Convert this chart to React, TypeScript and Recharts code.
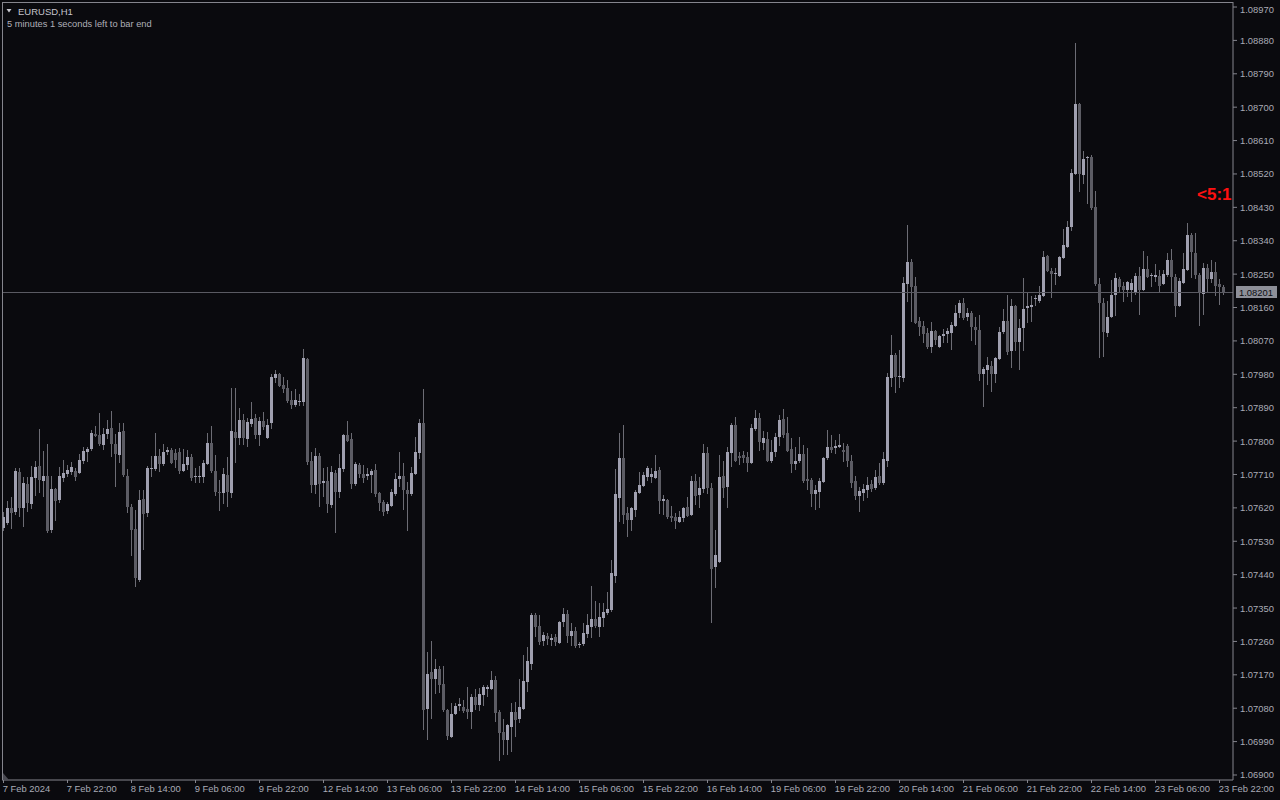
import React from "react";
import { ComposedChart, Bar, XAxis, YAxis, ReferenceLine } from "recharts";

// ---- data ----
const sessionDays = ["7 Feb", "8 Feb", "9 Feb", "12 Feb", "13 Feb", "14 Feb", "15 Feb", "16 Feb", "19 Feb", "20 Feb", "21 Feb", "22 Feb", "23 Feb"];
const sessionStartHour = [6, 0, 0, 0, 0, 0, 0, 0, 0, 0, 0, 0, 0];
const firstTickLabel = "7 Feb 2024";
const symbolTitle = "EURUSD,H1";
const timerText = "5 minutes 1 seconds left to bar end";
const redMarkText = "<5:1";
const lastPrice = 1.08201;
const priceTicks = [
  1.069, 1.0699, 1.0708, 1.0717, 1.0726, 1.0735, 1.0744, 1.0753, 1.0762, 1.0771, 1.078, 1.0789,
  1.0798, 1.0807, 1.0816, 1.0825, 1.0834, 1.0843, 1.0852, 1.0861, 1.087, 1.0879, 1.0888, 1.0897,
];
const priceDomain = [1.068865, 1.089835];

// [open, high, low, close]
const ohlc: number[][] = [
  [1.07566,1.07609,1.07558,1.07595],[1.07579,1.07638,1.07574,1.07620],[1.07620,1.07649,1.07563,1.07606],[1.07609,1.07727,1.07601,1.07719],
  [1.07717,1.07727,1.07595,1.07620],[1.07620,1.07703,1.07568,1.07687],[1.07684,1.07703,1.07609,1.07633],[1.07630,1.07733,1.07617,1.07703],
  [1.07700,1.07746,1.07652,1.07730],[1.07733,1.07832,1.07660,1.07695],[1.07692,1.07773,1.07649,1.07706],[1.07706,1.07792,1.07552,1.07558],
  [1.07560,1.07706,1.07552,1.07671],[1.07671,1.07674,1.07585,1.07638],[1.07641,1.07730,1.07633,1.07706],[1.07700,1.07749,1.07690,1.07714],
  [1.07711,1.07736,1.07703,1.07722],[1.07717,1.07744,1.07709,1.07730],[1.07719,1.07727,1.07692,1.07703],[1.07714,1.07765,1.07711,1.07749],
  [1.07746,1.07784,1.07738,1.07773],[1.07771,1.07784,1.07744,1.07779],[1.07779,1.07830,1.07773,1.07822],[1.07819,1.07841,1.07811,1.07814],
  [1.07816,1.07876,1.07787,1.07792],[1.07789,1.07835,1.07776,1.07819],[1.07819,1.07857,1.07806,1.07832],[1.07835,1.07881,1.07757,1.07792],
  [1.07792,1.07819,1.07676,1.07765],[1.07762,1.07849,1.07741,1.07824],[1.07827,1.07849,1.07703,1.07709],[1.07706,1.07725,1.07606,1.07622],
  [1.07622,1.07630,1.07490,1.07560],[1.07563,1.07614,1.07407,1.07431],[1.07426,1.07668,1.07420,1.07641],[1.07644,1.07668,1.07506,1.07603],
  [1.07606,1.07733,1.07595,1.07727],[1.07725,1.07760,1.07703,1.07727],[1.07725,1.07822,1.07719,1.07760],[1.07760,1.07779,1.07717,1.07738],
  [1.07738,1.07792,1.07733,1.07771],[1.07771,1.07784,1.07762,1.07776],[1.07776,1.07781,1.07738,1.07741],[1.07768,1.07779,1.07727,1.07749],
  [1.07771,1.07781,1.07711,1.07719],[1.07719,1.07779,1.07717,1.07738],[1.07736,1.07776,1.07722,1.07757],[1.07757,1.07765,1.07692,1.07700],
  [1.07703,1.07727,1.07687,1.07706],[1.07703,1.07733,1.07687,1.07706],[1.07703,1.07749,1.07687,1.07741],[1.07738,1.07822,1.07736,1.07795],
  [1.07795,1.07841,1.07714,1.07719],[1.07719,1.07762,1.07652,1.07663],[1.07663,1.07695,1.07611,1.07660],[1.07660,1.07727,1.07630,1.07711],
  [1.07709,1.07757,1.07622,1.07663],[1.07660,1.07943,1.07646,1.07827],[1.07824,1.07943,1.07741,1.07808],[1.07808,1.07889,1.07789,1.07857],
  [1.07857,1.07873,1.07789,1.07808],[1.07806,1.07862,1.07784,1.07851],[1.07846,1.07905,1.07838,1.07859],[1.07862,1.07873,1.07806,1.07816],
  [1.07816,1.07865,1.07787,1.07854],[1.07854,1.07878,1.07830,1.07838],[1.07808,1.07859,1.07806,1.07843],[1.07849,1.07981,1.07832,1.07973],
  [1.07970,1.07992,1.07957,1.07981],[1.07981,1.07983,1.07946,1.07948],[1.07951,1.07973,1.07930,1.07940],[1.07943,1.07965,1.07903,1.07908],
  [1.07911,1.07935,1.07886,1.07897],[1.07897,1.07940,1.07892,1.07911],[1.07906,1.07927,1.07894,1.07908],[1.07905,1.08048,1.07894,1.08024],
  [1.08021,1.08024,1.07736,1.07744],[1.07746,1.07771,1.07660,1.07682],[1.07682,1.07781,1.07657,1.07760],[1.07760,1.07768,1.07622,1.07684],
  [1.07687,1.07727,1.07649,1.07692],[1.07692,1.07730,1.07606,1.07630],[1.07628,1.07733,1.07620,1.07717],[1.07714,1.07722,1.07552,1.07663],
  [1.07663,1.07765,1.07646,1.07727],[1.07725,1.07819,1.07717,1.07816],[1.07816,1.07854,1.07797,1.07800],[1.07806,1.07822,1.07671,1.07684],
  [1.07684,1.07744,1.07679,1.07738],[1.07736,1.07741,1.07700,1.07711],[1.07711,1.07736,1.07687,1.07700],[1.07706,1.07727,1.07695,1.07711],
  [1.07709,1.07725,1.07660,1.07719],[1.07722,1.07738,1.07649,1.07657],[1.07660,1.07662,1.07611,1.07633],[1.07636,1.07641,1.07598,1.07609],
  [1.07611,1.07636,1.07603,1.07630],[1.07625,1.07671,1.07622,1.07663],[1.07657,1.07714,1.07652,1.07698],[1.07698,1.07771,1.07676,1.07706],
  [1.07706,1.07741,1.07614,1.07668],[1.07668,1.07690,1.07558,1.07657],[1.07657,1.07730,1.07652,1.07714],[1.07711,1.07811,1.07709,1.07771],
  [1.07768,1.07859,1.07752,1.07849],[1.07849,1.07940,1.07021,1.07075],[1.07078,1.07232,1.06994,1.07172],[1.07178,1.07261,1.07051,1.07159],
  [1.07159,1.07213,1.07118,1.07186],[1.07186,1.07194,1.07121,1.07143],[1.07145,1.07194,1.07070,1.07075],[1.07075,1.07077,1.06994,1.07005],
  [1.07002,1.07094,1.06999,1.07064],[1.07064,1.07094,1.07062,1.07086],[1.07086,1.07108,1.07073,1.07091],[1.07083,1.07102,1.07067,1.07073],
  [1.07078,1.07137,1.07051,1.07070],[1.07070,1.07118,1.07024,1.07110],[1.07110,1.07132,1.07075,1.07089],[1.07089,1.07135,1.07073,1.07118],
  [1.07116,1.07143,1.07086,1.07137],[1.07132,1.07143,1.07110,1.07137],[1.07132,1.07180,1.07129,1.07156],[1.07156,1.07167,1.07043,1.07067],
  [1.07070,1.07075,1.06938,1.07013],[1.07016,1.07051,1.06954,1.06994],[1.06994,1.07037,1.06954,1.07035],[1.07029,1.07094,1.06962,1.07070],
  [1.07070,1.07097,1.07002,1.07048],[1.07051,1.07159,1.07040,1.07083],[1.07078,1.07223,1.07075,1.07153],[1.07151,1.07245,1.07124,1.07207],
  [1.07199,1.07337,1.07183,1.07331],[1.07331,1.07337,1.07272,1.07299],[1.07302,1.07331,1.07250,1.07258],[1.07261,1.07285,1.07248,1.07277],
  [1.07275,1.07283,1.07250,1.07267],[1.07264,1.07280,1.07248,1.07269],[1.07272,1.07280,1.07248,1.07258],[1.07256,1.07315,1.07253,1.07312],
  [1.07312,1.07350,1.07299,1.07334],[1.07334,1.07345,1.07256,1.07275],[1.07275,1.07310,1.07248,1.07288],[1.07288,1.07299,1.07242,1.07248],
  [1.07250,1.07258,1.07242,1.07253],[1.07253,1.07310,1.07248,1.07283],[1.07280,1.07334,1.07269,1.07304],[1.07299,1.07409,1.07269,1.07320],
  [1.07320,1.07369,1.07296,1.07302],[1.07299,1.07364,1.07272,1.07326],[1.07323,1.07364,1.07299,1.07339],[1.07337,1.07393,1.07331,1.07347],
  [1.07345,1.07479,1.07339,1.07444],[1.07436,1.07725,1.07418,1.07657],[1.07646,1.07822,1.07582,1.07754],[1.07754,1.07843,1.07576,1.07601],
  [1.07606,1.07622,1.07541,1.07587],[1.07587,1.07622,1.07558,1.07620],[1.07614,1.07668,1.07595,1.07663],[1.07660,1.07717,1.07657,1.07682],
  [1.07679,1.07717,1.07676,1.07709],[1.07703,1.07733,1.07692,1.07727],[1.07703,1.07727,1.07687,1.07711],[1.07700,1.07762,1.07698,1.07719],
  [1.07722,1.07730,1.07603,1.07638],[1.07638,1.07655,1.07601,1.07644],[1.07641,1.07644,1.07590,1.07595],[1.07598,1.07625,1.07582,1.07593],
  [1.07595,1.07606,1.07563,1.07585],[1.07582,1.07611,1.07579,1.07595],[1.07593,1.07622,1.07582,1.07620],[1.07622,1.07649,1.07595,1.07598],
  [1.07601,1.07706,1.07598,1.07692],[1.07692,1.07711,1.07628,1.07652],[1.07655,1.07703,1.07620,1.07674],[1.07671,1.07792,1.07660,1.07768],
  [1.07768,1.07784,1.07657,1.07674],[1.07674,1.07687,1.07310,1.07455],[1.07461,1.07560,1.07404,1.07493],[1.07474,1.07762,1.07471,1.07703],
  [1.07706,1.07746,1.07646,1.07674],[1.07676,1.07784,1.07620,1.07771],[1.07768,1.07849,1.07730,1.07843],[1.07843,1.07865,1.07744,1.07746],
  [1.07760,1.07771,1.07736,1.07754],[1.07762,1.07773,1.07741,1.07754],[1.07757,1.07771,1.07717,1.07741],[1.07741,1.07846,1.07738,1.07835],
  [1.07832,1.07884,1.07827,1.07862],[1.07862,1.07876,1.07773,1.07797],[1.07795,1.07827,1.07776,1.07808],[1.07806,1.07824,1.07744,1.07746],
  [1.07746,1.07803,1.07741,1.07771],[1.07771,1.07822,1.07757,1.07811],[1.07811,1.07870,1.07787,1.07857],[1.07859,1.07886,1.07808,1.07816],
  [1.07822,1.07865,1.07771,1.07773],[1.07779,1.07808,1.07714,1.07738],[1.07738,1.07784,1.07722,1.07746],[1.07746,1.07811,1.07741,1.07765],
  [1.07765,1.07789,1.07687,1.07692],[1.07698,1.07781,1.07668,1.07692],[1.07695,1.07700,1.07622,1.07657],[1.07657,1.07682,1.07614,1.07668],
  [1.07663,1.07700,1.07620,1.07692],[1.07690,1.07757,1.07687,1.07754],[1.07754,1.07830,1.07749,1.07784],[1.07784,1.07816,1.07768,1.07776],
  [1.07781,1.07803,1.07765,1.07787],[1.07784,1.07819,1.07781,1.07789],[1.07776,1.07795,1.07744,1.07771],[1.07787,1.07792,1.07730,1.07746],
  [1.07746,1.07762,1.07674,1.07687],[1.07692,1.07706,1.07641,1.07652],[1.07652,1.07676,1.07609,1.07665],[1.07660,1.07684,1.07638,1.07671],
  [1.07668,1.07703,1.07646,1.07682],[1.07684,1.07695,1.07663,1.07671],[1.07674,1.07722,1.07668,1.07703],[1.07706,1.07741,1.07682,1.07687],
  [1.07687,1.07771,1.07682,1.07752],[1.07746,1.07983,1.07730,1.07973],[1.07970,1.08086,1.07946,1.08032],[1.08032,1.08037,1.07930,1.07973],
  [1.07975,1.08045,1.07943,1.07976],[1.07970,1.08242,1.07959,1.08226],[1.08223,1.08382,1.08175,1.08283],[1.08283,1.08291,1.08121,1.08215],
  [1.08218,1.08242,1.08115,1.08118],[1.08124,1.08134,1.08083,1.08107],[1.08110,1.08124,1.08064,1.08088],[1.08091,1.08105,1.08048,1.08053],
  [1.08053,1.08121,1.08037,1.08097],[1.08097,1.08099,1.08059,1.08072],[1.08053,1.08086,1.08051,1.08083],[1.08083,1.08102,1.08064,1.08088],
  [1.08088,1.08105,1.08064,1.08097],[1.08091,1.08121,1.08045,1.08113],[1.08110,1.08167,1.08107,1.08145],[1.08145,1.08180,1.08132,1.08172],
  [1.08172,1.08186,1.08126,1.08132],[1.08134,1.08159,1.08124,1.08145],[1.08145,1.08150,1.08070,1.08107],[1.08107,1.08134,1.08059,1.08099],
  [1.08099,1.08140,1.07962,1.07981],[1.07981,1.08000,1.07892,1.07994],[1.07992,1.08027,1.07951,1.08005],[1.08002,1.08016,1.07932,1.07981],
  [1.07981,1.08027,1.07957,1.08024],[1.08021,1.08107,1.08018,1.08094],[1.08094,1.08156,1.08088,1.08124],[1.08124,1.08194,1.08032,1.08040],
  [1.08043,1.08183,1.07997,1.08164],[1.08164,1.08167,1.08043,1.08067],[1.08067,1.08129,1.07992,1.08105],[1.08105,1.08239,1.08043,1.08156],
  [1.08159,1.08199,1.08118,1.08164],[1.08161,1.08191,1.08121,1.08167],[1.08184,1.08194,1.08164,1.08186],[1.08177,1.08218,1.08172,1.08194],
  [1.08191,1.08312,1.08188,1.08296],[1.08299,1.08301,1.08256,1.08258],[1.08258,1.08266,1.08186,1.08250],[1.08253,1.08266,1.08221,1.08254],
  [1.08245,1.08299,1.08242,1.08296],[1.08293,1.08371,1.08291,1.08329],[1.08323,1.08393,1.08320,1.08377],[1.08377,1.08533,1.08366,1.08522],
  [1.08520,1.08873,1.08517,1.08708],[1.08708,1.08711,1.08471,1.08520],[1.08517,1.08582,1.08493,1.08560],[1.08563,1.08568,1.08439,1.08565],
  [1.08565,1.08571,1.08423,1.08428],[1.08431,1.08474,1.08218,1.08223],[1.08223,1.08239,1.08024,1.08172],[1.08172,1.08186,1.08027,1.08094],
  [1.08091,1.08177,1.08080,1.08134],[1.08134,1.08234,1.08132,1.08194],[1.08194,1.08253,1.08137,1.08239],[1.08237,1.08242,1.08202,1.08215],
  [1.08218,1.08229,1.08175,1.08207],[1.08207,1.08231,1.08188,1.08229],[1.08207,1.08237,1.08175,1.08226],[1.08199,1.08253,1.08194,1.08245],
  [1.08245,1.08269,1.08140,1.08207],[1.08207,1.08312,1.08204,1.08264],[1.08264,1.08299,1.08239,1.08242],[1.08245,1.08253,1.08215,1.08248],
  [1.08242,1.08277,1.08229,1.08248],[1.08245,1.08261,1.08202,1.08218],[1.08223,1.08261,1.08221,1.08250],[1.08248,1.08307,1.08242,1.08288],
  [1.08288,1.08318,1.08202,1.08242],[1.08242,1.08250,1.08134,1.08164],[1.08164,1.08239,1.08161,1.08231],[1.08226,1.08307,1.08223,1.08264],
  [1.08261,1.08388,1.08258,1.08355],[1.08355,1.08361,1.08239,1.08310],[1.08307,1.08361,1.08237,1.08248],[1.08248,1.08253,1.08110,1.08199],
  [1.08196,1.08280,1.08140,1.08266],[1.08266,1.08277,1.08199,1.08237],[1.08237,1.08288,1.08226,1.08256],[1.08256,1.08283,1.08191,1.08218],
  [1.08223,1.08237,1.08167,1.08215],[1.08215,1.08221,1.08194,1.08201],
];

// ---- build table ----
const times: string[] = [];
sessionDays.forEach((d, k) => {
  for (let h = sessionStartHour[k]; h < 24; h++) times.push(`${d} ${String(h).padStart(2, "0")}:00`);
});
const data = ohlc.map(([o, h, l, c], i) => ({ t: times[i], o, h, l, c, range: [l, h] }));

// ---- style ----
const BG = "#0a0a0e";
const FRAME = "#85858d";
const TEXT = "#a9abb6";
const BULL = "#a0a0b0";
const BEAR = "#5c5c64";
const WICK = "#6c6c74";
const FONT = "'Liberation Sans', Arial, sans-serif";

function Candle(props: any) {
  const { x, y, height, payload } = props;
  if (!payload || height == null) return null;
  const { o, h, l, c } = payload;
  const span = h - l || 1e-9;
  const py = (v: number) => y + ((h - v) / span) * height;
  const x0 = Math.round(x);
  const yh = Math.round(py(h));
  const yl = Math.round(py(l));
  const yo = py(o);
  const yc = py(c);
  const top = Math.round(Math.min(yo, yc));
  const bot = Math.round(Math.max(yo, yc));
  const bull = c >= o;
  return (
    <g shapeRendering="crispEdges">
      <rect x={x0 + 1} y={yh} width={1} height={Math.max(1, yl - yh)} fill={WICK} />
      <rect x={x0} y={top} width={3} height={Math.max(1, bot - top)} fill={bull ? BULL : BEAR} />
    </g>
  );
}

function XTick(props: any) {
  const { x, y, payload } = props;
  const label = payload.value === times[0] ? firstTickLabel : payload.value;
  const lx = Math.round(x) - 0.5;
  return (
    <g>
      <line x1={lx} x2={lx} y1={y - 6} y2={y - 3} stroke={FRAME} shapeRendering="crispEdges" />
      <text x={x - 1.3} y={y + 6.2} fill={TEXT} fontSize={9.4} fontFamily={FONT} textAnchor="start">
        {label}
      </text>
    </g>
  );
}

function YTick(props: any) {
  const { x, y, payload } = props;
  return (
    <text x={x + 1} y={y + 3.5} fill={TEXT} fontSize={9.4} fontFamily={FONT} textAnchor="start">
      {Number(payload.value).toFixed(5)}
    </text>
  );
}

function PriceTag(props: any) {
  const vb = props.viewBox || {};
  const x = vb.x + vb.width + 3;
  const y = vb.y;
  return (
    <g>
      <rect x={x} y={y - 6} width={41} height={12} fill="#8e9099" shapeRendering="crispEdges" />
      <text x={x + 3} y={y + 3.5} fill="#0c0c10" fontSize={9.4} fontFamily={FONT}>
        {lastPrice.toFixed(5)}
      </text>
    </g>
  );
}

export default function App() {
  return (
    <div style={{ position: "absolute", left: 0, top: 0, width: 1280, height: 800, background: BG, overflow: "hidden" }}>
      <ComposedChart
        width={1280}
        height={800}
        data={data}
        margin={{ top: 2, right: 0, bottom: 0, left: 2 }}
        barCategoryGap={0}
        barGap={0}
      >
        <XAxis
          dataKey="t"
          interval={15}
          height={20}
          padding={{ left: 0, right: 7 }}
          axisLine={{ stroke: FRAME }}
          tickLine={false}
          tickSize={4}
          tickMargin={2}
          tick={(p: any) => <XTick {...p} />}
        />
        <YAxis
          orientation="right"
          type="number"
          domain={priceDomain}
          allowDataOverflow
          ticks={priceTicks}
          width={47}
          axisLine={{ stroke: FRAME }}
          tickLine={{ stroke: FRAME }}
          tickSize={4}
          tick={(p: any) => <YTick {...p} />}
        />
        <ReferenceLine y={lastPrice} stroke="#5a5a62" strokeWidth={1} shapeRendering="crispEdges" label={(p: any) => <PriceTag {...p} />} />
        <Bar dataKey="range" isAnimationActive={false} shape={(p: any) => <Candle {...p} />} />
      </ComposedChart>
      <svg width={1280} height={800} style={{ position: "absolute", left: 0, top: 0, pointerEvents: "none" }}>
        <line x1={2.5} y1={2} x2={2.5} y2={780} stroke={FRAME} shapeRendering="crispEdges" />
        <line x1={2} y1={2.5} x2={1233} y2={2.5} stroke={FRAME} shapeRendering="crispEdges" />
        <polygon points="3,773 3,780 9,780" fill="#4a4a52" />
        <polygon points="6.5,9 11.5,9 9,12.5" fill="#c8c8d0" />
        <text x={18} y={14.5} fill="#c4c4cc" fontSize={9.5} fontFamily={FONT}>{symbolTitle}</text>
        <text x={7} y={27} fill="#b0b0b8" fontSize={9.3} fontFamily={FONT}>{timerText}</text>
        <text x={1197} y={200} fill="#ff1010" fontSize={17} fontWeight="bold" fontFamily={FONT}>{redMarkText}</text>
      </svg>
    </div>
  );
}
